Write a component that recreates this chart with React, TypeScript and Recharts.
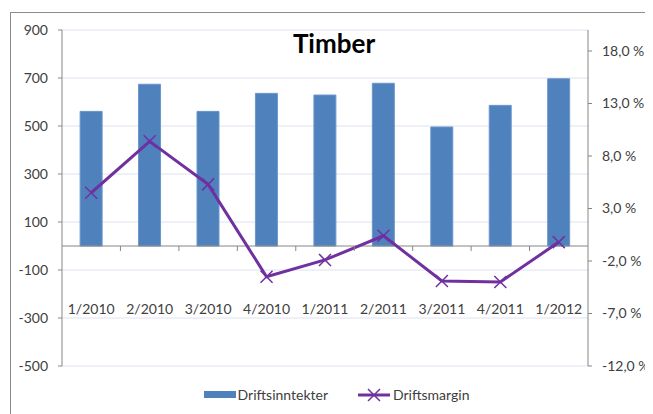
import {
  ComposedChart,
  Bar,
  Line,
  XAxis,
  YAxis,
  CartesianGrid,
  Legend,
  ReferenceLine,
} from "recharts";

const quarters = ["1/2010", "2/2010", "3/2010", "4/2010", "1/2011", "2/2011", "3/2011", "4/2011", "1/2012"];
const revenue = [561, 674, 561, 636, 629, 678, 496, 586, 697];
const operatingMargin = [4.5, 9.4, 5.3, -3.5, -1.9, 0.4, -3.9, -4.0, -0.2];
const revenueTicks = [-500, -300, -100, 100, 300, 500, 700, 900];
const marginTicks = [-12, -7, -2, 3, 8, 13, 18];

const data = quarters.map((q, i) => ({
  quarter: q,
  Driftsinntekter: revenue[i],
  Driftsmargin: operatingMargin[i],
}));

const W = 645;
const H = 406;
const LEFT_AXIS_W = 54;
const RIGHT_AXIS_W = 65;
const X_AXIS_H = 20;
const LEGEND_H = 20;
const MARGIN = { top: 22, right: 0, bottom: 8, left: 0 };
const REV_DOMAIN: [number, number] = [-500, 900];

const plotTop = MARGIN.top;
const plotBottom = H - MARGIN.bottom - LEGEND_H - X_AXIS_H;
const plotWidth = W - LEFT_AXIS_W - RIGHT_AXIS_W;
const zeroY =
  plotTop + ((plotBottom - plotTop) * REV_DOMAIN[1]) / (REV_DOMAIN[1] - REV_DOMAIN[0]);
const band = plotWidth / quarters.length;

const FONT = "Lato, 'Open Sans', sans-serif";
const TEXT = "#404040";
const AXIS = "#868686";
const BLUE = "#4f81bd";
const PURPLE = "#7030a0";

function QuarterTick({ x, index, payload }: any) {
  return (
    <g>
      {index > 0 && (
        <line x1={x - band / 2} x2={x - band / 2} y1={zeroY} y2={zeroY + 5} stroke={AXIS} />
      )}
      <text x={x} y={zeroY + 68} textAnchor="middle" fill={TEXT} fontSize={14} fontFamily={FONT}>
        {payload.value}
      </text>
    </g>
  );
}

function Cross({ cx, cy }: any) {
  if (cx == null || cy == null) return null;
  const r = 6;
  return (
    <g stroke={PURPLE} strokeWidth={1.5}>
      <line x1={cx - r} y1={cy - r} x2={cx + r} y2={cy + r} />
      <line x1={cx - r} y1={cy + r} x2={cx + r} y2={cy - r} />
    </g>
  );
}

function LegendContent() {
  return (
    <div
      style={{
        display: "flex",
        justifyContent: "center",
        alignItems: "center",
        fontFamily: FONT,
        fontSize: 14,
        color: TEXT,
        paddingLeft: 12,
      }}
    >
      <svg width={34} height={10}>
        <rect x={0} y={1} width={32} height={7} fill={BLUE} />
      </svg>
      <span style={{ marginRight: 30 }}>Driftsinntekter</span>
      <svg width={35} height={14}>
        <line x1={0} x2={32} y1={7} y2={7} stroke={PURPLE} strokeWidth={3} />
        <Cross cx={16} cy={7} />
      </svg>
      <span>Driftsmargin</span>
    </div>
  );
}

const fmtPct = (v: number) => `${v.toFixed(1).replace(".", ",")}\u00a0%`;

export default function App() {
  return (
    <div style={{ position: "relative", width: W, height: H, overflow: "hidden" }}>
      <div
        style={{
          position: "absolute",
          left: 2,
          top: 4,
          width: 700,
          height: 500,
          border: "1px solid #8c8c8c",
        }}
      />
      <ComposedChart width={W} height={H} data={data} margin={MARGIN} barCategoryGap="31%">
        <CartesianGrid yAxisId="left" vertical={false} stroke="#dce4f0" />
        <XAxis
          dataKey="quarter"
          height={X_AXIS_H}
          axisLine={false}
          tickLine={false}
          tick={<QuarterTick />}
          interval={0}
        />
        <YAxis
          yAxisId="left"
          width={LEFT_AXIS_W}
          domain={REV_DOMAIN}
          ticks={revenueTicks}
          stroke={AXIS}
          tickSize={4}
          tickMargin={10}
          tick={{ fill: TEXT, fontSize: 14, fontFamily: FONT }}
        />
        <YAxis
          yAxisId="right"
          orientation="right"
          width={RIGHT_AXIS_W}
          domain={[-12, 20]}
          ticks={marginTicks}
          stroke={AXIS}
          tickSize={4}
          tickMargin={10}
          tickFormatter={fmtPct}
          tick={{ fill: TEXT, fontSize: 14, fontFamily: FONT }}
        />
        <Bar
          yAxisId="left"
          dataKey="Driftsinntekter"
          fill={BLUE}
          stroke="#6b97cc"
          strokeWidth={1}
          isAnimationActive={false}
        />
        <ReferenceLine yAxisId="left" y={0} stroke={AXIS} />
        <Line
          yAxisId="right"
          dataKey="Driftsmargin"
          stroke={PURPLE}
          strokeWidth={3}
          dot={<Cross />}
          activeDot={false}
          isAnimationActive={false}
        />
        <Legend verticalAlign="bottom" height={LEGEND_H} content={<LegendContent />} />
      </ComposedChart>
      <div
        style={{
          position: "absolute",
          left: 0,
          width: W + 7,
          top: 19,
          textAlign: "center",
          fontFamily: FONT,
          fontWeight: 700,
          fontSize: 26,
          color: "#000",
        }}
      >
        Timber
      </div>
    </div>
  );
}
